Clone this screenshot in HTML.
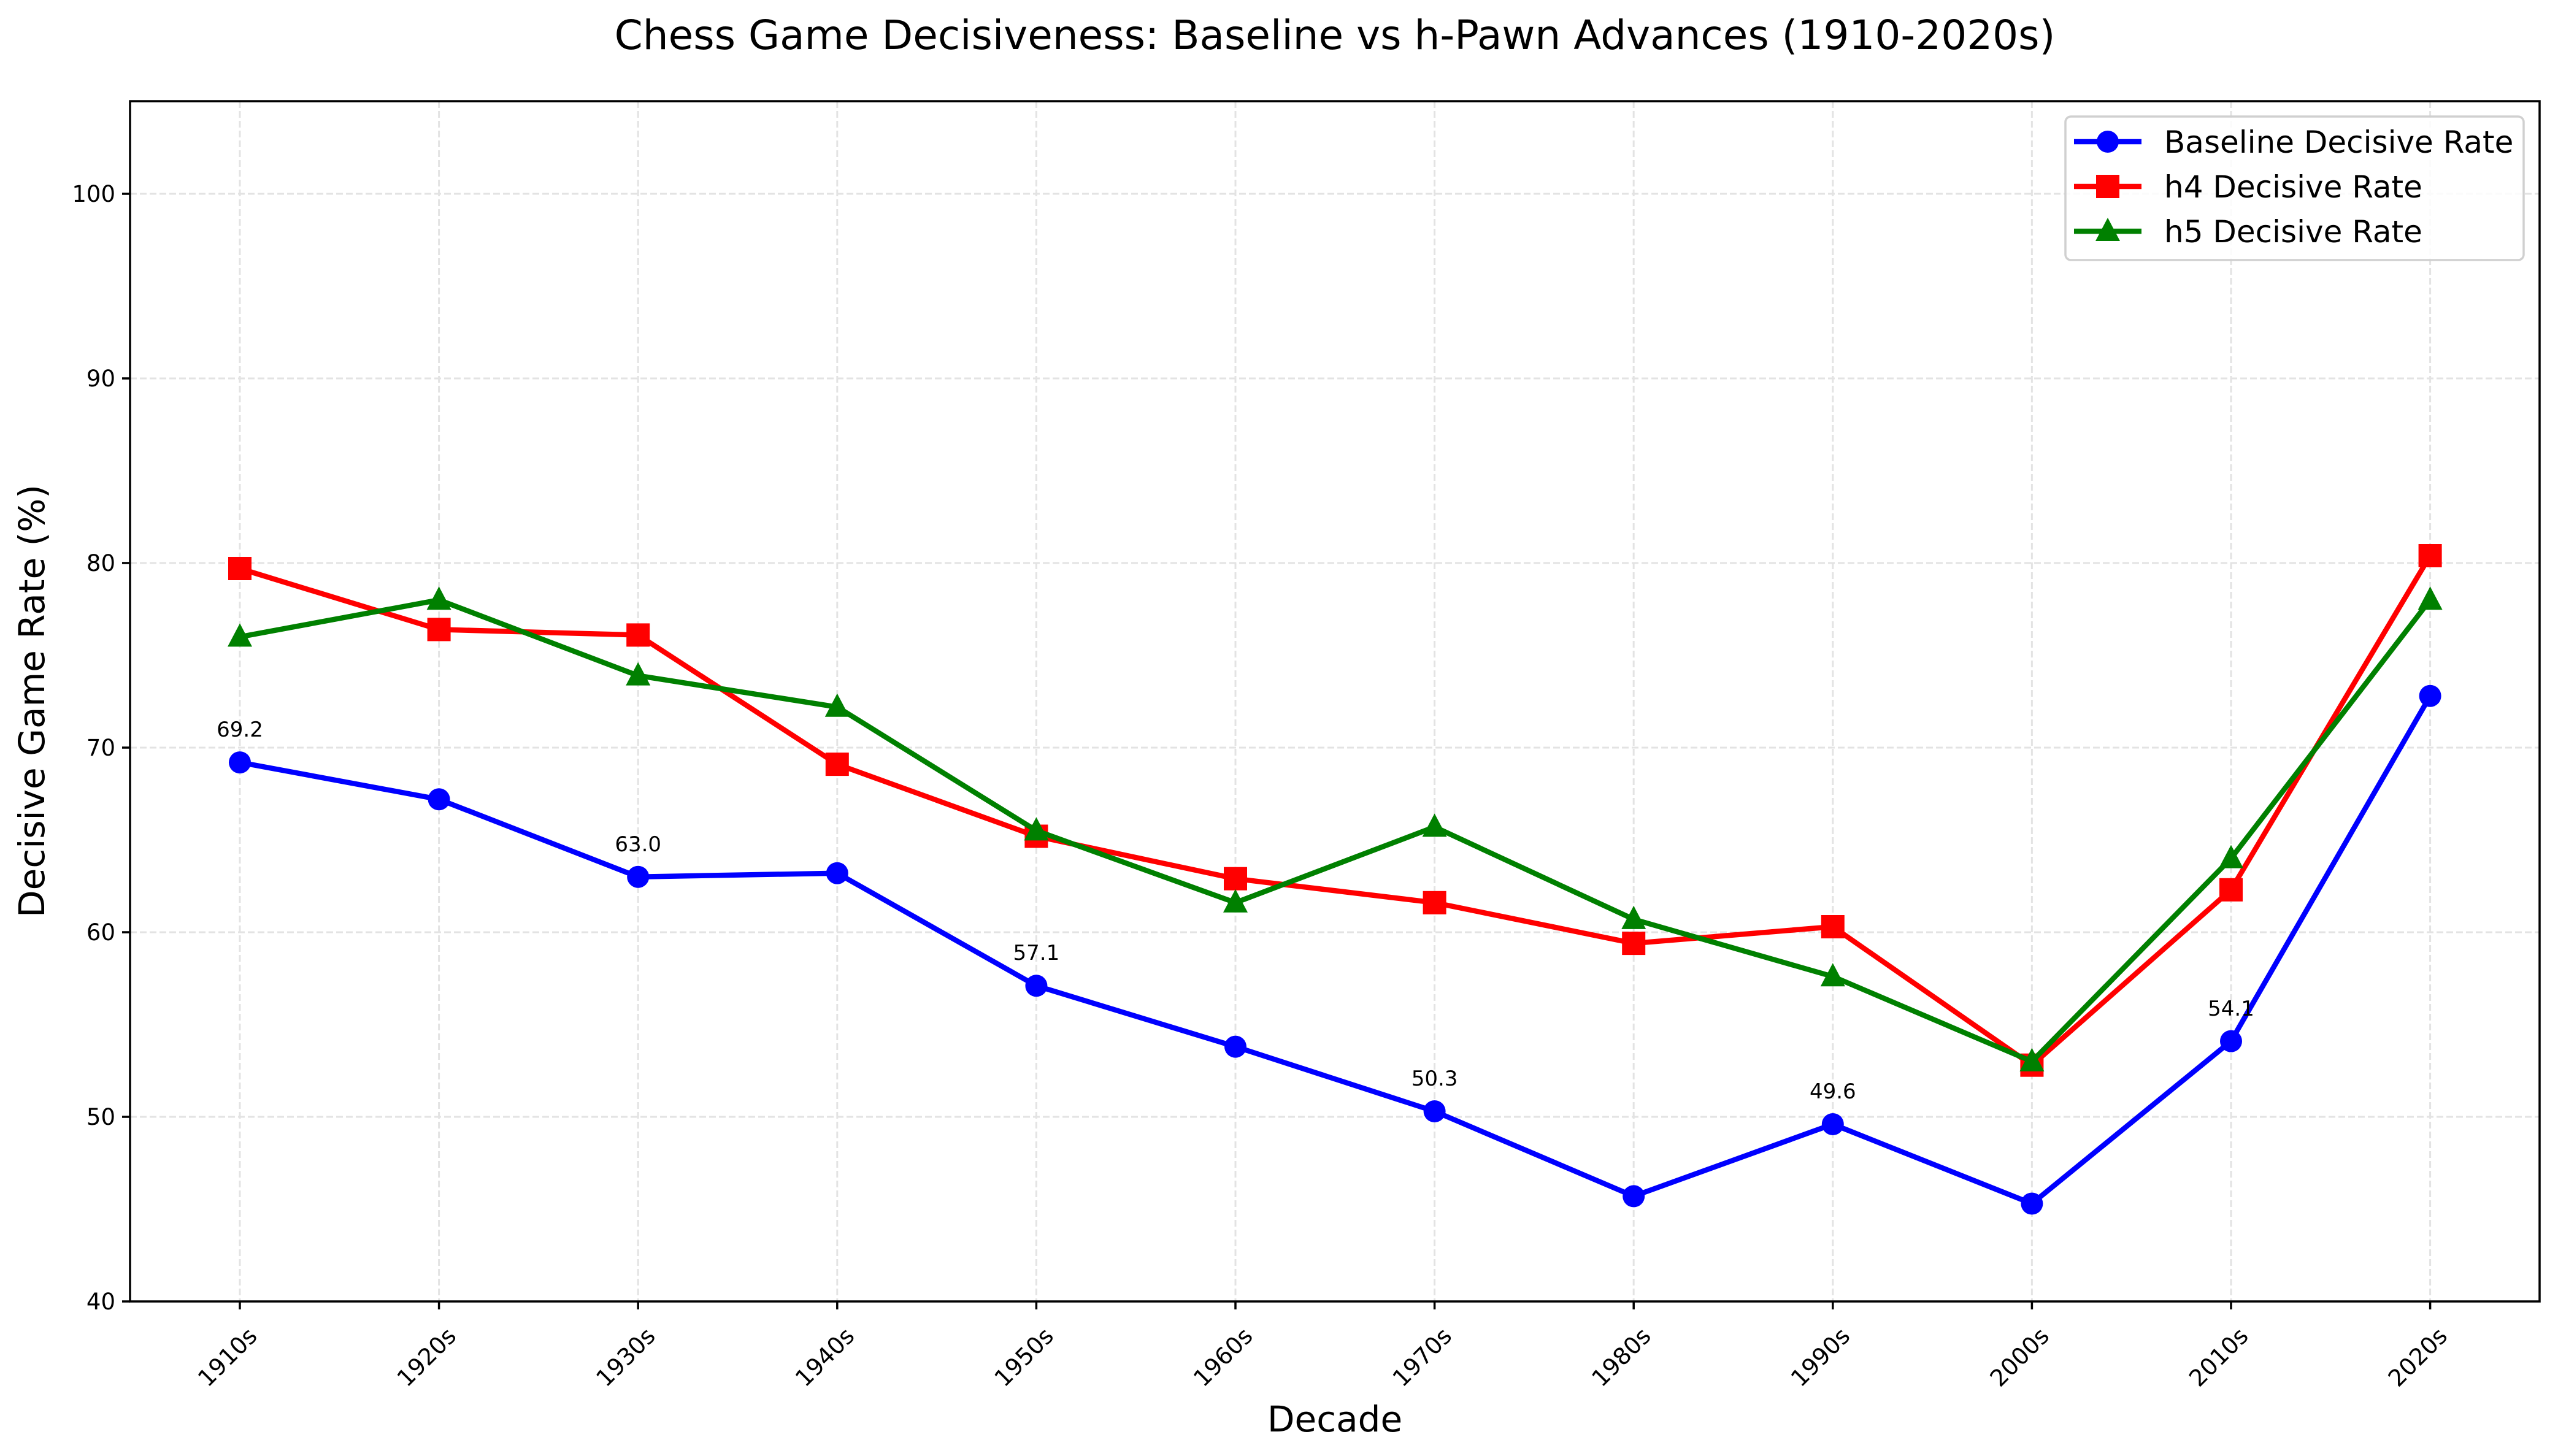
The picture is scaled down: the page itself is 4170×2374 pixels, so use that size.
<!DOCTYPE html>
<html><head><meta charset="utf-8"><style>html,body{margin:0;padding:0;background:#fff}svg{display:block}</style></head>
<body>
<svg width="4170" height="2374" viewBox="0 0 4170 2374" xmlns="http://www.w3.org/2000/svg" font-family="'DejaVu Sans','Liberation Sans',sans-serif">
<rect width="4170" height="2374" fill="#fff"/>
<g stroke="#e3e3e3" stroke-width="3" stroke-dasharray="11,5">
<line x1="212" x2="4140" y1="2122" y2="2122"/><line x1="212" x2="4140" y1="1821" y2="1821"/><line x1="212" x2="4140" y1="1520" y2="1520"/><line x1="212" x2="4140" y1="1219" y2="1219"/><line x1="212" x2="4140" y1="918" y2="918"/><line x1="212" x2="4140" y1="617" y2="617"/><line x1="212" x2="4140" y1="316" y2="316"/>
<line y1="165" y2="2122" x1="391" x2="391"/><line y1="165" y2="2122" x1="715.6" x2="715.6"/><line y1="165" y2="2122" x1="1040.2" x2="1040.2"/><line y1="165" y2="2122" x1="1364.8" x2="1364.8"/><line y1="165" y2="2122" x1="1689.4" x2="1689.4"/><line y1="165" y2="2122" x1="2014" x2="2014"/><line y1="165" y2="2122" x1="2338.6" x2="2338.6"/><line y1="165" y2="2122" x1="2663.2" x2="2663.2"/><line y1="165" y2="2122" x1="2987.8" x2="2987.8"/><line y1="165" y2="2122" x1="3312.4" x2="3312.4"/><line y1="165" y2="2122" x1="3637" x2="3637"/><line y1="165" y2="2122" x1="3961.6" x2="3961.6"/>
</g>
<defs>
<circle id="c" r="18" fill="#0000ff"/>
<rect id="s" x="-19" y="-19" width="38" height="38" fill="#ff0000"/>
<polygon id="t" points="0,-22 20,16 -20,16" fill="#008000"/>
</defs>
<polyline fill="none" stroke="#0000ff" stroke-width="8.5" stroke-linejoin="round" points="391,1243.1 715.6,1303.3 1040.2,1429.7 1364.8,1423.7 1689.4,1607.3 2014,1706.6 2338.6,1812 2663.2,1950.4 2987.8,1833 3312.4,1962.5 3637,1697.6 3961.6,1134.7"/>
<g><use href="#c" x="391" y="1243.1"/><use href="#c" x="715.6" y="1303.3"/><use href="#c" x="1040.2" y="1429.7"/><use href="#c" x="1364.8" y="1423.7"/><use href="#c" x="1689.4" y="1607.3"/><use href="#c" x="2014" y="1706.6"/><use href="#c" x="2338.6" y="1812"/><use href="#c" x="2663.2" y="1950.4"/><use href="#c" x="2987.8" y="1833"/><use href="#c" x="3312.4" y="1962.5"/><use href="#c" x="3637" y="1697.6"/><use href="#c" x="3961.6" y="1134.7"/></g>
<polyline fill="none" stroke="#ff0000" stroke-width="8.5" stroke-linejoin="round" points="391,927 715.6,1026.4 1040.2,1035.4 1364.8,1246.1 1689.4,1363.5 2014,1432.7 2338.6,1471.8 2663.2,1538.1 2987.8,1511 3312.4,1736.7 3637,1450.8 3961.6,906"/>
<g><use href="#s" x="391" y="927"/><use href="#s" x="715.6" y="1026.4"/><use href="#s" x="1040.2" y="1035.4"/><use href="#s" x="1364.8" y="1246.1"/><use href="#s" x="1689.4" y="1363.5"/><use href="#s" x="2014" y="1432.7"/><use href="#s" x="2338.6" y="1471.8"/><use href="#s" x="2663.2" y="1538.1"/><use href="#s" x="2987.8" y="1511"/><use href="#s" x="3312.4" y="1736.7"/><use href="#s" x="3637" y="1450.8"/><use href="#s" x="3961.6" y="906"/></g>
<polyline fill="none" stroke="#008000" stroke-width="8.5" stroke-linejoin="round" points="391,1038.4 715.6,978.2 1040.2,1101.6 1364.8,1152.8 1689.4,1354.4 2014,1471.8 2338.6,1348.4 2663.2,1498.9 2987.8,1592.2 3312.4,1730.7 3637,1399.6 3961.6,978.2"/>
<g><use href="#t" x="391" y="1038.4"/><use href="#t" x="715.6" y="978.2"/><use href="#t" x="1040.2" y="1101.6"/><use href="#t" x="1364.8" y="1152.8"/><use href="#t" x="1689.4" y="1354.4"/><use href="#t" x="2014" y="1471.8"/><use href="#t" x="2338.6" y="1348.4"/><use href="#t" x="2663.2" y="1498.9"/><use href="#t" x="2987.8" y="1592.2"/><use href="#t" x="3312.4" y="1730.7"/><use href="#t" x="3637" y="1399.6"/><use href="#t" x="3961.6" y="978.2"/></g>
<g font-size="34" text-anchor="middle" fill="#000">
<text x="391" y="1201">69.2</text><text x="1040.2" y="1388">63.0</text><text x="1689.4" y="1565">57.1</text><text x="2338.6" y="1770">50.3</text><text x="2987.8" y="1791">49.6</text><text x="3637" y="1656">54.1</text>
</g>
<rect x="212" y="165" width="3928" height="1957" fill="none" stroke="#000" stroke-width="3.5"/>
<g stroke="#000" stroke-width="3.5">
<line x1="212" x2="199" y1="2122" y2="2122"/><line x1="212" x2="199" y1="1821" y2="1821"/><line x1="212" x2="199" y1="1520" y2="1520"/><line x1="212" x2="199" y1="1219" y2="1219"/><line x1="212" x2="199" y1="918" y2="918"/><line x1="212" x2="199" y1="617" y2="617"/><line x1="212" x2="199" y1="316" y2="316"/>
<line y1="2122" y2="2135" x1="391" x2="391"/><line y1="2122" y2="2135" x1="715.6" x2="715.6"/><line y1="2122" y2="2135" x1="1040.2" x2="1040.2"/><line y1="2122" y2="2135" x1="1364.8" x2="1364.8"/><line y1="2122" y2="2135" x1="1689.4" x2="1689.4"/><line y1="2122" y2="2135" x1="2014" x2="2014"/><line y1="2122" y2="2135" x1="2338.6" x2="2338.6"/><line y1="2122" y2="2135" x1="2663.2" x2="2663.2"/><line y1="2122" y2="2135" x1="2987.8" x2="2987.8"/><line y1="2122" y2="2135" x1="3312.4" x2="3312.4"/><line y1="2122" y2="2135" x1="3637" x2="3637"/><line y1="2122" y2="2135" x1="3961.6" x2="3961.6"/>
</g>
<g font-size="37" text-anchor="end" fill="#000">
<text x="188" y="2135">40</text><text x="188" y="1834">50</text><text x="188" y="1533">60</text><text x="188" y="1232">70</text><text x="188" y="931">80</text><text x="188" y="630">90</text><text x="188" y="329">100</text>
</g>
<g font-size="38" text-anchor="middle" fill="#000">
<text transform="translate(380,2222) rotate(-45)">1910s</text><text transform="translate(704.6,2222) rotate(-45)">1920s</text><text transform="translate(1029.2,2222) rotate(-45)">1930s</text><text transform="translate(1353.8,2222) rotate(-45)">1940s</text><text transform="translate(1678.4,2222) rotate(-45)">1950s</text><text transform="translate(2003,2222) rotate(-45)">1960s</text><text transform="translate(2327.6,2222) rotate(-45)">1970s</text><text transform="translate(2652.2,2222) rotate(-45)">1980s</text><text transform="translate(2976.8,2222) rotate(-45)">1990s</text><text transform="translate(3301.4,2222) rotate(-45)">2000s</text><text transform="translate(3626,2222) rotate(-45)">2010s</text><text transform="translate(3950.6,2222) rotate(-45)">2020s</text>
</g>
<text x="2176" y="2334" font-size="58" text-anchor="middle">Decade</text>
<text transform="translate(72,1143) rotate(-90)" font-size="58" text-anchor="middle">Decisive Game Rate (%)</text>
<text x="2176" y="80" font-size="66" text-anchor="middle">Chess Game Decisiveness: Baseline vs h-Pawn Advances (1910-2020s)</text>
<rect x="3367" y="190" width="747" height="234" rx="9" fill="#fff" fill-opacity="0.85" stroke="#d0d0d0" stroke-width="3.5"/>
<line x1="3381" x2="3491" y1="231" y2="231" stroke="#0000ff" stroke-width="8.5"/><use href="#c" x="3436" y="231"/>
<line x1="3381" x2="3491" y1="304" y2="304" stroke="#ff0000" stroke-width="8.5"/><use href="#s" x="3436" y="304"/>
<line x1="3381" x2="3491" y1="377" y2="377" stroke="#008000" stroke-width="8.5"/><use href="#t" x="3436" y="377"/>
<g font-size="50" fill="#000">
<text x="3528" y="249">Baseline Decisive Rate</text><text x="3528" y="322">h4 Decisive Rate</text><text x="3528" y="395">h5 Decisive Rate</text>
</g>
</svg>
</body></html>
